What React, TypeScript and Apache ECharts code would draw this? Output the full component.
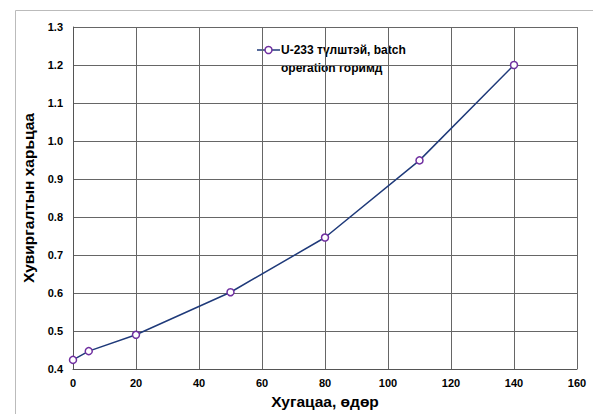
import React, { useEffect, useRef } from "react";
import * as echarts from "echarts";

const days = [0, 5, 20, 50, 80, 110, 140];
const ratio = [0.424, 0.447, 0.49, 0.602, 0.746, 0.949, 1.2];
const seriesName = "U-233 түлштэй, batch operation горимд";
const legendLines = ["U-233 түлштэй, batch", "operation горимд"];
const xTitle = "Хугацаа, өдөр";
const yTitle = "Хувиргалтын харьцаа";

const FONT = "'Liberation Sans', Arial, sans-serif";

export default function App() {
  const ref = useRef<HTMLDivElement>(null);
  useEffect(() => {
    const chart = echarts.init(ref.current!, null, { renderer: "svg" });
    chart.setOption({
      animation: false,
      backgroundColor: "#fff",
      textStyle: { fontFamily: FONT },
      grid: { left: 73, top: 27, right: 16, bottom: 41 },
      xAxis: {
        type: "value",
        min: 0,
        max: 160,
        interval: 20,
        name: xTitle,
        nameLocation: "middle",
        nameGap: 24,
        nameTextStyle: { fontWeight: "bold", fontSize: 15.5, color: "#000", fontFamily: FONT },
        axisLine: { show: true, lineStyle: { color: "#555", width: 1 } },
        axisTick: { show: false },
        axisLabel: { color: "#000", fontWeight: "bold", fontSize: 11, margin: 8, fontFamily: FONT },
        splitLine: { show: true, lineStyle: { color: "#666", width: 1 } },
      },
      yAxis: {
        type: "value",
        min: 0.4,
        max: 1.3,
        interval: 0.1,
        name: yTitle,
        nameLocation: "middle",
        nameGap: 32,
        nameTextStyle: { fontWeight: "bold", fontSize: 15.5, color: "#000", fontFamily: FONT },
        axisLine: { show: true, lineStyle: { color: "#555", width: 1 } },
        axisTick: { show: false },
        axisLabel: {
          color: "#000",
          fontWeight: "bold",
          fontSize: 11,
          margin: 10,
          fontFamily: FONT,
          formatter: (v: number) => v.toFixed(1),
        },
        splitLine: { show: true, lineStyle: { color: "#666", width: 1 } },
      },
      graphic: [
        {
          type: "rect",
          left: 13,
          top: 8,
          shape: { width: 620, height: 440 },
          style: { fill: "none", stroke: "#bbb", lineWidth: 1 },
          z: 0,
          silent: true,
        },
        {
          type: "group",
          left: 225,
          top: 37,
          z: 100,
          children: [
            { type: "rect", shape: { x: 0, y: 0, width: 222, height: 42 }, style: { fill: "#fff" } },
            { type: "line", shape: { x1: 32, y1: 13, x2: 55, y2: 13 }, style: { stroke: "#1f3a7a", lineWidth: 1.5 } },
            { type: "circle", shape: { cx: 43.5, cy: 13, r: 3.5 }, style: { fill: "#fff", stroke: "#7030a0", lineWidth: 1.5 } },
            {
              type: "text",
              x: 56,
              y: 4,
              style: {
                text: legendLines.join("\n"),
                font: "bold 12px " + FONT,
                fill: "#000",
                lineHeight: 18,
              },
            },
          ],
        },
      ],
      series: [
        {
          name: seriesName,
          type: "line",
          data: days.map((d, i) => [d, ratio[i]]),
          lineStyle: { color: "#1f3a7a", width: 1.5 },
          itemStyle: { color: "#fff", borderColor: "#7030a0", borderWidth: 1.5 },
          symbol: "circle",
          symbolSize: 7,
          showSymbol: true,
          z: 3,
        },
      ],
    });
    return () => chart.dispose();
  }, []);
  return <div ref={ref} style={{ position: "absolute", left: 0, top: 0, width: 593, height: 414 }} />;
}
